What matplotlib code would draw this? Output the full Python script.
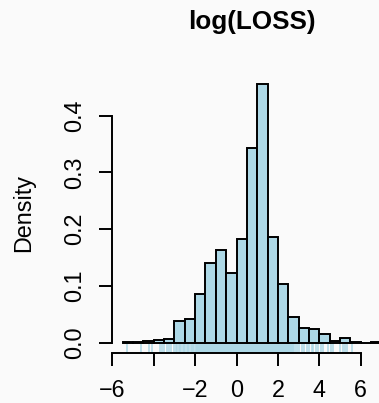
import matplotlib
matplotlib.use("Agg")
import matplotlib.pyplot as plt

plt.rcParams['font.family'] = ['Liberation Sans', 'DejaVu Sans']

# histogram of log(LOSS), bins of width 0.5, density scale
bin_starts = [-5.5, -5.0, -4.5, -4.0, -3.5, -3.0, -2.5, -2.0, -1.5, -1.0,
              -0.5, 0.0, 0.5, 1.0, 1.5, 2.0, 2.5, 3.0, 3.5, 4.0,
              4.5, 5.0, 5.5, 6.0, 6.5]
density = [0.0015, 0.0015, 0.003, 0.0045, 0.006, 0.039, 0.042, 0.0865, 0.141, 0.163,
           0.123, 0.183, 0.343, 0.4565, 0.187, 0.103, 0.045, 0.0265, 0.0245, 0.015,
           0.003, 0.0075, 0.0015, 0.0, 0.0015]
bin_width = 0.5

# rug of the observations
rug_left = [-5.30, -4.61, -4.21, -4.10, -3.70, -3.60, -3.49, -3.37, -3.26, -3.15,
            -3.00, -2.93, -2.86, -2.80, -2.72, -2.66, -2.59, -2.52, -2.47, -2.40,
            -2.33, -2.28, -2.21, -2.15, -2.09, -2.04]
rug_core = [-1.98, -1.93, -1.87, -1.83, -1.77, -1.72, -1.68, -1.62, -1.57, -1.53,
            -1.47, -1.42, -1.38, -1.32, -1.27, -1.22, -1.18, -1.12, -1.07, -1.03,
            -0.97, -0.92, -0.88, -0.82, -0.77, -0.73, -0.67, -0.62, -0.58, -0.52,
            -0.47, -0.43, -0.37, -0.32, -0.28, -0.22, -0.17, -0.13, -0.07, -0.02,
            0.02, 0.08, 0.13, 0.17, 0.23, 0.28, 0.32, 0.38, 0.43, 0.47,
            0.53, 0.58, 0.62, 0.68, 0.73, 0.77, 0.83, 0.88, 0.92, 0.98,
            1.03, 1.07, 1.13, 1.18, 1.22, 1.28, 1.33, 1.37, 1.43, 1.48,
            1.52, 1.58, 1.63, 1.67, 1.73, 1.78, 1.82, 1.88, 1.93, 1.97,
            2.03, 2.08, 2.12, 2.18, 2.23, 2.27, 2.33, 2.38, 2.42, 2.48,
            2.53, 2.57, 2.62, 2.67]
rug_right = [2.75, 2.83, 2.92, 3.03, 3.15, 3.26, 3.39, 3.52, 3.63, 3.71,
             3.84, 3.95, 4.07, 4.19, 4.44, 4.55, 4.68, 5.00, 5.13, 5.24,
             5.35, 5.59, 6.97]

xticks = [-6, -4, -2, 0, 2, 4, 6]
xtick_labels = ['\u22126', '', '\u22122', '0', '2', '4', '6']
yticks = [0.0, 0.1, 0.2, 0.3, 0.4]
ytick_labels = ['0.0', '0.1', '0.2', '0.3', '0.4']

W, H = 379, 403
BG = '#fafafa'
LW = 1.4
FS = 16.8

fig = plt.figure(figsize=(W / 100, H / 100), dpi=100, facecolor=BG)
# plot region in pixels (left, right, top, bottom)
pl, pr, pt, pb = 112.3, 391.8, 73.2, 353.1
ax = fig.add_axes([pl / W, 1 - pb / H, (pr - pl) / W, (pb - pt) / H])
ax.set_facecolor(BG)

ax.bar(bin_starts, density, width=bin_width, align='edge', color='lightblue',
       edgecolor='black', linewidth=LW, zorder=2)
# sparse tails thin, dense middle wide enough to merge into a band
rug_kw = dict(transform=ax.get_xaxis_transform(), colors='lightblue', zorder=1)
ax.vlines(rug_left + rug_right, 0, 0.035, linewidth=1.1, **rug_kw)
ax.vlines(rug_core, 0, 0.035, linewidth=2.0, **rug_kw)

# R-style limits: 4% padding around the data range
x0, x1 = bin_starts[0], bin_starts[-1] + bin_width
pad_x = 0.04 * (x1 - x0)
ax.set_xlim(x0 - pad_x, x1 + pad_x)
dmax = max(density)
ax.set_ylim(-0.04 * dmax, 1.04 * dmax)

for side in ['top', 'right']:
    ax.spines[side].set_visible(False)
ax.spines['left'].set_bounds(yticks[0], yticks[-1])
ax.spines['bottom'].set_bounds(xticks[0], xticks[-1])
for side in ['left', 'bottom']:
    ax.spines[side].set_linewidth(LW)

ax.set_xticks(xticks)
ax.set_xticklabels(xtick_labels)
ax.set_yticks(yticks)
ax.set_yticklabels(ytick_labels, rotation=90, va='center')
ax.tick_params(length=9.1, width=LW, pad=9.4, labelsize=FS, color='black')

fig.text(34.9 / W, 1 - 212.5 / H, 'Density', rotation=90, ha='right', va='center',
         fontsize=FS)
fig.text((pl + pr) / 2 / W, 1 - 29.3 / H, 'log(LOSS)', ha='center', va='baseline',
         fontsize=18.7, fontweight='bold')

fig.savefig('out.png', dpi=100, facecolor=BG)
